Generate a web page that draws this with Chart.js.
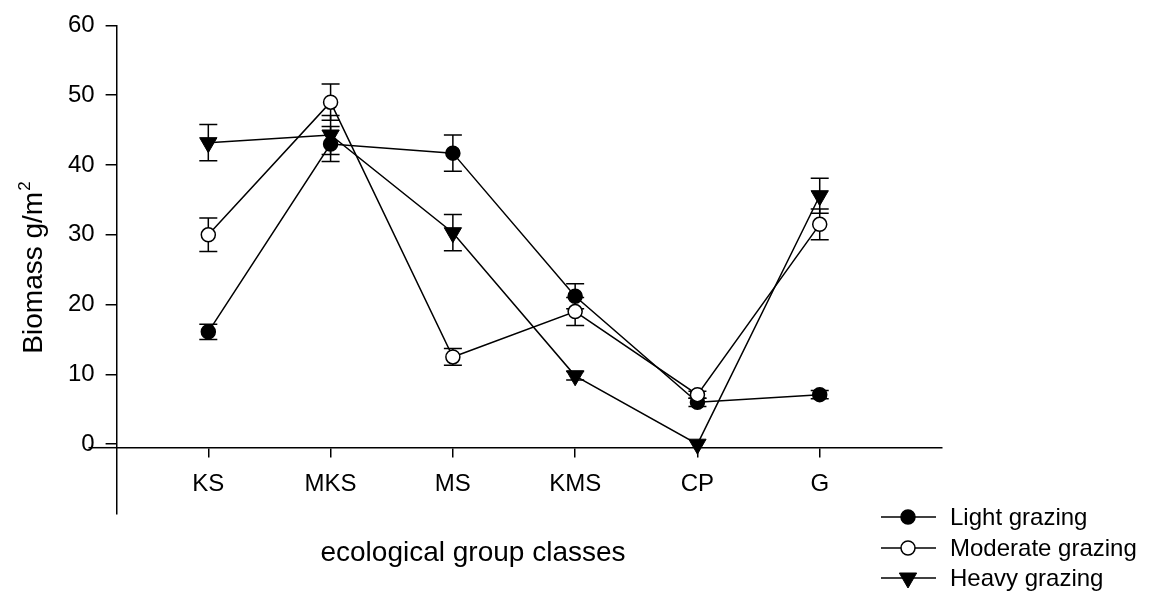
<!DOCTYPE html>
<html>
<head>
<meta charset="utf-8">
<title>Biomass by ecological group classes</title>
<script src="https://cdn.jsdelivr.net/npm/chart.js@4.4.0/dist/chart.umd.min.js"></script>
<style>
  html, body { margin: 0; padding: 0; background: #fff; }
</style>
</head>
<body>
<canvas id="chart" width="1150" height="596"></canvas>
<script>
const groups = ['KS', 'MKS', 'MS', 'KMS', 'CP', 'G'];
const yTicks = [0, 10, 20, 30, 40, 50, 60];

const light = [16.1, 43.0, 41.7, 21.2, 6.0, 7.1];
const lightErr = [1.1, 2.5, 2.6, 1.8, 0.6, 0.6];
const moderate = [30.0, 49.0, 12.5, 19.0, 7.1, 31.5];
const moderateErr = [2.4, 2.6, 1.2, 2.0, 0.5, 2.2];
const heavy = [43.2, 44.3, 30.3, 9.8, 0.0, 35.6];
const heavyErr = [2.6, 2.8, 2.6, 0.6, 0, 2.5];

const FONT = "'Liberation Sans', Arial, Helvetica, sans-serif";

function points(vals) {
    return vals.map((v, i) => ({ x: i + 1, y: v }));     // category i sits at x = i + 1
}

// error bars go under the markers, like the original
const errorBars = {
    id: 'errorBars',
    beforeDatasetsDraw(chart) {
        const { ctx, scales: { x, y } } = chart;
        ctx.save();
        ctx.strokeStyle = '#000';
        ctx.lineWidth = 1.5;
        chart.data.datasets.forEach(ds => {
            ds.data.forEach((p, i) => {
                const e = ds.errors[i];
                if (!e) return;
                const px = x.getPixelForValue(p.x);
                const top = y.getPixelForValue(p.y + e);
                const bot = y.getPixelForValue(p.y - e);
                ctx.beginPath();
                ctx.moveTo(px, top); ctx.lineTo(px, bot);
                ctx.moveTo(px - 9, top); ctx.lineTo(px + 9, top);
                ctx.moveTo(px - 9, bot); ctx.lineTo(px + 9, bot);
                ctx.stroke();
            });
        });
        ctx.restore();
    }
};

function drawMarker(ctx, ds, cx, cy) {
    ctx.fillStyle = ds.pointBackgroundColor;
    ctx.strokeStyle = ds.pointBorderColor;
    ctx.lineWidth = ds.pointBorderWidth;
    ctx.beginPath();
    if (ds.pointStyle === 'triangle') {
        const r = ds.pointRadius;
        ctx.moveTo(cx - r * Math.sqrt(3) / 2, cy - r / 2);
        ctx.lineTo(cx + r * Math.sqrt(3) / 2, cy - r / 2);
        ctx.lineTo(cx, cy + r);
        ctx.closePath();
    } else {
        ctx.arc(cx, cy, ds.pointRadius, 0, Math.PI * 2);
    }
    ctx.fill();
    ctx.stroke();
}

// axis titles, legend and the bit of x axis left of the y axis
const decorations = {
    id: 'decorations',
    afterDraw(chart) {
        const { ctx, scales: { x, y } } = chart;
        ctx.save();

        // x axis line runs a little past the y axis
        const ay = y.getPixelForValue(-0.5);
        ctx.strokeStyle = '#000';
        ctx.lineWidth = 1.5;
        ctx.beginPath();
        ctx.moveTo(x.getPixelForValue(0.02), ay);
        ctx.lineTo(x.left, ay);
        ctx.stroke();

        ctx.fillStyle = '#000';
        ctx.textBaseline = 'alphabetic';

        // x title
        ctx.font = '28px ' + FONT;
        ctx.textAlign = 'center';
        ctx.fillText('ecological group classes', 473, 561);

        // y title with superscript
        ctx.save();
        ctx.translate(42, 268);
        ctx.rotate(-Math.PI / 2);
        ctx.textAlign = 'left';
        ctx.font = '28px ' + FONT;
        const main = 'Biomass g/m';
        const mw = ctx.measureText(main).width;
        ctx.font = '17px ' + FONT;
        const sw = ctx.measureText('2').width;
        const start = -(mw + sw) / 2;
        ctx.font = '28px ' + FONT;
        ctx.fillText(main, start, 0);
        ctx.font = '17px ' + FONT;
        ctx.fillText('2', start + mw + 1, -12);
        ctx.restore();

        // legend
        const rows = [517, 548, 578];
        chart.data.datasets.forEach((ds, i) => {
            const ly = rows[i];
            ctx.strokeStyle = '#000';
            ctx.lineWidth = 1.5;
            ctx.beginPath();
            ctx.moveTo(881, ly);
            ctx.lineTo(936, ly);
            ctx.stroke();
            drawMarker(ctx, ds, 908, ly);
            ctx.fillStyle = '#000';
            ctx.font = '24px ' + FONT;
            ctx.textAlign = 'left';
            ctx.textBaseline = 'middle';
            ctx.fillText(ds.label, 950, ly + 1);
        });
        ctx.restore();
    }
};

const tickFont = { family: FONT, size: 24 };

const ctx = document.getElementById('chart').getContext('2d');
const myChart = new Chart(ctx, {
    type: 'line',
    data: {
        datasets: [
            {
                label: 'Light grazing',
                data: points(light),
                errors: lightErr,
                borderColor: '#000',
                borderWidth: 1.5,
                pointStyle: 'circle',
                pointRadius: 7,
                pointBackgroundColor: '#000',
                pointBorderColor: '#000',
                pointBorderWidth: 1.5,
                order: 1
            },
            {
                label: 'Moderate grazing',
                data: points(moderate),
                errors: moderateErr,
                borderColor: '#000',
                borderWidth: 1.5,
                pointStyle: 'circle',
                pointRadius: 7,
                pointBackgroundColor: '#fff',
                pointBorderColor: '#000',
                pointBorderWidth: 1.5,
                order: 0
            },
            {
                label: 'Heavy grazing',
                data: points(heavy),
                errors: heavyErr,
                borderColor: '#000',
                borderWidth: 1.5,
                pointStyle: 'triangle',
                pointRotation: 180,
                pointRadius: 10,
                pointBackgroundColor: '#000',
                pointBorderColor: '#000',
                pointBorderWidth: 1,
                order: 2
            }
        ]
    },
    options: {
        responsive: false,
        animation: false,
        layout: { padding: { left: 0, top: 20, right: 208, bottom: 82 } },
        plugins: {
            legend: { display: false },
            tooltip: { enabled: false }
        },
        elements: { line: { tension: 0 } },
        scales: {
            x: {
                type: 'linear',
                position: { y: -0.5 },
                min: 0.25,
                max: 7,
                afterBuildTicks: s => { s.ticks = groups.map((g, i) => ({ value: i + 1 })); },
                ticks: {
                    callback: v => groups[Math.round(v) - 1],
                    font: tickFont,
                    color: '#000',
                    padding: 13,
                    maxRotation: 0,
                    autoSkip: false
                },
                grid: { drawOnChartArea: false, tickLength: 9, color: '#000', lineWidth: 1.5 },
                border: { display: true, color: '#000', width: 1.5 }
            },
            y: {
                type: 'linear',
                position: 'left',
                min: -10,
                max: 60,
                afterBuildTicks: s => { s.ticks = yTicks.map(v => ({ value: v })); },
                afterFit: s => { s.width = 116.6; },
                ticks: { font: tickFont, color: '#000', padding: 11 },
                grid: { drawOnChartArea: false, tickLength: 11, color: '#000', lineWidth: 1.5 },
                border: { display: true, color: '#000', width: 1.5 }
            }
        }
    },
    plugins: [errorBars, decorations]
});
</script>
</body>
</html>
